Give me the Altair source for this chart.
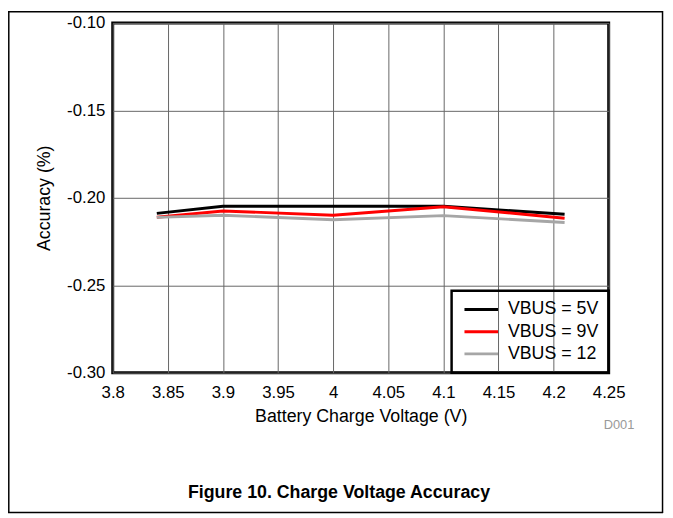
import altair as alt
import pandas as pd

voltage = [3.84, 3.9, 4.0, 4.1, 4.21]
acc_5v = [-0.2089, -0.2049, -0.2049, -0.2049, -0.2094]
acc_9v = [-0.2111, -0.2075, -0.2100, -0.2051, -0.2117]
acc_12 = [-0.2112, -0.2100, -0.2126, -0.2102, -0.2141]
series = ["VBUS = 5V", "VBUS = 9V", "VBUS = 12"]
colors = ["#000000", "#ff0000", "#a6a6a6"]
x_ticks = [3.8, 3.85, 3.9, 3.95, 4.0, 4.05, 4.1, 4.15, 4.2, 4.25]
y_ticks = [-0.30, -0.25, -0.20, -0.15, -0.10]

rows = []
for name, vals in zip(series, [acc_5v, acc_9v, acc_12]):
    for v, a in zip(voltage, vals):
        rows.append({"v": v, "acc": a, "series": name})
df = pd.DataFrame(rows)

FONT = "Liberation Sans"

lines = alt.Chart(df).mark_line(strokeWidth=3).encode(
    x=alt.X("v:Q", scale=alt.Scale(domain=[3.8, 4.25], nice=False, zero=False),
            axis=alt.Axis(values=x_ticks, format=".2~f", title="Battery Charge Voltage (V)",
                          ticks=False, domain=False, labelPadding=12, titlePadding=7,
                          gridColor="#666666", gridWidth=1, labelFlush=False)),
    y=alt.Y("acc:Q", scale=alt.Scale(domain=[-0.30, -0.10], nice=False, zero=False),
            axis=alt.Axis(values=y_ticks, title="Accuracy (%)",
                          labelExpr="replace(format(datum.value, '.2f'), '\u2212', '-')",
                          ticks=False, domain=False, labelPadding=8, titlePadding=13,
                          gridColor="#666666", gridWidth=1)),
    color=alt.Color("series:N", sort=series,
                    scale=alt.Scale(domain=series, range=colors),
                    legend=alt.Legend(title=None, orient="none", legendX=343, legendY=271,
                                      symbolType="M-3,0H3", symbolSize=128, symbolOffset=11,
                                      symbolStrokeWidth=3, labelFontSize=18,
                                      labelOffset=18, padding=10, rowPadding=4.5,
                                      strokeColor="black")),
)

one = pd.DataFrame({"k": [0]})
frame_top = alt.Chart(one).mark_rule(color="black", strokeWidth=1.5).encode(
    x=alt.value(-106), x2=alt.value(557), y=alt.value(-11.2))
frame_bottom = alt.Chart(one).mark_rule(color="black", strokeWidth=1.5).encode(
    x=alt.value(-106), x2=alt.value(557), y=alt.value(495.5))
frame_left = alt.Chart(one).mark_rule(color="black", strokeWidth=1.5).encode(
    x=alt.value(-105.2), y=alt.value(-12), y2=alt.value(496))
frame_right = alt.Chart(one).mark_rule(color="black", strokeWidth=1.5).encode(
    x=alt.value(556.5), y=alt.value(-12), y2=alt.value(496))

d001 = alt.Chart(one).mark_text(font=FONT, fontSize=13, color="#999999", align="right",
                                baseline="middle").encode(
    x=alt.value(528), y=alt.value(407), text=alt.value("D001"))
caption = alt.Chart(one).mark_text(font=FONT, fontSize=18, fontWeight="bold", color="black",
                                   align="center", baseline="middle").encode(
    x=alt.value(229), y=alt.value(476), text=alt.value("Figure 10. Charge Voltage Accuracy"))

chart = alt.layer(lines, frame_top, frame_bottom, frame_left, frame_right, d001, caption).properties(
    width=502, height=354,
    autosize=alt.AutoSizeParams(type="none"),
    padding={"left": 106, "top": 12, "right": 57, "bottom": 143},
    background="white",
).configure_view(
    stroke="black", strokeWidth=3
).configure_axis(
    labelFont=FONT, titleFont=FONT, labelFontSize=17, titleFontSize=18,
    labelColor="black", titleColor="black", titleFontWeight="normal",
).configure_legend(
    labelFont=FONT, labelColor="black", strokeWidth=2.5
)

chart.save("out.html", embed_options={"renderer": "svg", "actions": False})
